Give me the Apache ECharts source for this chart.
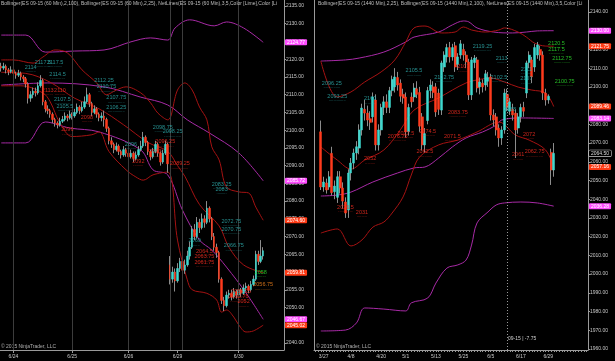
<!DOCTYPE html>
<html><head><meta charset="utf-8">
<script src="https://cdn.jsdelivr.net/npm/echarts@6/dist/echarts.min.js"></script>
<style>html,body{margin:0;padding:0;background:#000;}#c{width:615px;height:361px;}</style>
</head><body><div id="c"></div>
<script>
const FONT = 'Arial, "Liberation Sans", sans-serif';
const leftTitle = 'Bollinger(ES 09-15 (60 Min),2,100), Bollinger(ES 09-15 (60 Min),2,25), NetLines(ES 09-15 (60 Min),3,5,Color [Lime],Color [Lime]';
const rightTitle = 'Bollinger(ES 09-15 (1440 Min),2,25), Bollinger(ES 09-15 (1440 Min),2,100), NetLines(ES 09-15 (1440 Min),3,5,Color [Lime]';
const copyright = '\u00a9 2015 NinjaTrader, LLC';
const rightNote = '09-15 | -7.75';

// ---- left panel (60 min) ----
const leftCount = 116;
const leftDateIdx = [5, 29, 52, 72, 97];
const leftDateLabels = ['6/24', '6/25', '6/26', '6/29', '6/30'];
const leftSessionLines = [5, 29, 52, 69, 74, 97];
const leftYTicks = [2040,2045,2050,2055,2060,2065,2070,2075,2080,2085,2090,2095,2100,2105,2110,2115,2120,2125,2130,2135];
// [open, close, low, high]
const leftBars = [
[2118,2117.5,2116.5,2119],[2117.5,2118,2117,2119],[2118,2117,2116,2118.5],[2117,2116.5,2115.5,2117.5],
[2116.5,2117,2116,2118],[2117,2116,2115,2117.5],[2116,2115.5,2114.5,2116.5],[2115.5,2116,2115,2117],
[2116,2115,2114,2116.5],[2115,2114.5,2113.5,2115.5],[2114.5,2113,2112,2115],[2113,2109,2107.5,2113.5],
[2109,2110,2108,2111],[2110,2111,2109,2112],[2111,2110.5,2109.5,2112],[2110.5,2112.5,2110,2113.5],
[2112.5,2114,2112,2115.5],[2114,2108,2107,2114.5],[2108,2106,2105,2108.5],[2106,2105.5,2104.5,2107],
[2105.5,2104.5,2103.5,2106],[2104.5,2103,2102,2105],[2103,2102,2101,2103.5],[2102,2101.5,2100.5,2102.5],
[2101.5,2102.5,2101,2103.5],[2102.5,2103,2102,2104],[2103,2104,2102.5,2105],[2104,2103.5,2102.5,2104.5],
[2103.5,2104.5,2103,2105.5],[2104.5,2104,2103,2105],[2104,2105,2103.5,2106],[2105,2106.5,2104.5,2107.5],
[2106.5,2105.5,2104.5,2107],[2105.5,2106.5,2105,2108],[2106.5,2108,2106,2109.5],[2108,2110,2107.5,2112],
[2110,2107.5,2106.5,2110.5],[2107.5,2105,2104,2108],[2105,2106,2104.5,2107],[2106,2104.5,2103.5,2106.5],
[2104.5,2103.5,2102.5,2105],[2103.5,2104,2102.5,2105],[2104,2103,2101,2105.5],[2103,2100.5,2099.5,2103.5],
[2100.5,2097,2096,2101],[2097,2096,2095,2098],[2096,2094.5,2093.5,2096.5],[2094.5,2095.5,2094,2096.5],
[2095.5,2094,2093,2096],[2094,2093,2092,2094.5],[2093,2094.5,2092.5,2095.5],[2094.5,2093.5,2092.5,2095],
[2093.5,2092.5,2091.5,2094],[2092.5,2093.5,2092,2094.5],[2093.5,2092,2091,2094],[2092,2093,2091.5,2094],
[2093,2094.5,2092.5,2095.5],[2094.5,2095.5,2094,2097],[2095.5,2098,2095,2099.5],[2098,2096.5,2095.5,2098.5],
[2096.5,2094,2093,2097],[2094,2092.5,2091.5,2094.5],[2092.5,2094,2092,2095],[2094,2096,2093.5,2097],
[2096,2093.5,2092.5,2096.5],[2093.5,2091,2090,2094],[2091,2093.5,2090.5,2094.5],[2093.5,2096,2093,2097],
[2096,2090.5,2088,2096.5],[2062,2058,2056.5,2064.5],[2058,2060,2057,2061.5],[2060,2057.5,2054.5,2061],
[2057.5,2061,2057,2062.5],[2061,2063,2060,2064],[2063,2060.5,2059.5,2063.5],[2060.5,2062,2059.5,2063.5],
[2062,2064.5,2061.5,2066],[2064.5,2067,2063.5,2068.5],[2067,2072,2066.5,2073],[2072,2070,2069,2073.5],
[2070,2074,2069.5,2075.5],[2074,2072.5,2071,2075],[2072.5,2075,2072,2076.5],[2075,2074,2072.5,2076],
[2074,2078,2073.5,2080],[2078,2075,2074,2078.5],[2075,2070,2069,2075.5],[2070,2067,2066,2071],
[2067,2065.5,2064,2068],[2065.5,2058,2057,2066],[2058,2052,2051,2058.5],[2052,2050.5,2049,2053],
[2050.5,2053.5,2050,2054.5],[2053.5,2054,2052.5,2055],[2054,2053,2052,2055],[2053,2054.5,2052.5,2055.5],
[2054.5,2053.5,2052.5,2055],[2053.5,2055,2053,2056],[2055,2054,2053,2055.5],[2054,2055.5,2053.5,2056.5],
[2055.5,2056,2054.5,2057],[2056,2055,2054,2056.5],[2055,2056.5,2054.5,2057.5],[2056.5,2058,2056,2059],
[2058,2065,2057.5,2066],[2065,2063,2062,2066],[2063,2064.5,2062.5,2069],[2064.5,2066,2063.5,2067]
];
const leftBB100Upper = [[0,2126.8],[10,2126.8],[18,2122],[30,2122.3],[42,2122.6],[53,2124.9],[61,2126],[68,2125.4],[71,2128.8],[77,2131.1],[87,2129.4],[92,2130.5],[99,2128.8],[107,2124.77]];
const leftBB100Mid = [[0,2112.7],[19,2113.3],[42,2112.2],[57,2109.3],[68,2107.1],[76,2102.9],[85,2099.2],[97,2093.6],[107,2085.72]];
const leftBB100Lower = [[0,2096.4],[10,2096.4],[18,2102.3],[28,2100.6],[40,2099.5],[57,2094.4],[62,2088.8],[68,2087.4],[74,2077.5],[81,2069],[86,2066.2],[92,2061.4],[100,2054.1],[107,2046.67]];
const leftBB25Upper = [[0,2119.8],[5,2119.8],[13,2118.9],[17,2120.6],[22,2122.6],[27,2121.8],[33,2117],[39,2113.3],[43,2110],[47,2111.3],[51,2112.2],[57,2110.5],[61,2107.7],[64,2104.8],[68,2102.9],[72,2111.3],[75,2113.3],[78,2111.3],[81,2106.5],[84,2102.9],[86,2095.3],[89,2091.6],[92,2084],[97,2082.6],[101,2082.3],[104,2078.3],[107,2074.6]];
const leftBB25Mid = [[0,2116.3],[10,2116],[20,2113.5],[30,2109],[40,2106],[50,2101.5],[60,2096.5],[68,2094],[72,2090],[75,2087],[81,2079],[89,2073],[93,2067],[99,2062],[107,2059.81]];
const leftBB25Lower = [[0,2112.5],[8,2112.5],[17,2110.5],[20,2108],[24,2102],[29,2098.2],[37,2098.7],[40,2099.5],[44,2094],[51,2088.8],[55,2086.8],[58,2085.9],[62,2087.4],[68,2088.2],[72,2069],[76,2057.8],[78,2055],[84,2054],[88,2052.1],[90,2048.7],[92,2049.3],[95,2047.3],[97,2045.1],[100,2043.1],[103,2043.4],[107,2045.02]];
const leftMarkers = [[2124.77,'m'],[2085.72,'m'],[2074.60,'r'],[2059.81,'r'],[2046.67,'m'],[2045.02,'r']];
const leftNetLabels = [
[12,2117.5,'2114','c'],[17,2118.9,'2117.5','c'],[22,2118.9,'2117.5','c'],[23,2115.5,'2114.5','c'],
[42,2113.6,'2112.25','c'],[43,2111.9,'2110.75','c'],[47,2108.8,'2107.75','c'],[47,2106.2,'2106.25','c'],
[25,2108.5,'2107.5','c'],[26,2106.5,'2105.5','c'],[66,2100.6,'2098.75','c'],[70,2099.2,'2098.25','c'],
[53,2095.8,'2096','c'],[90,2084.5,'2083.25','c'],[90,2083.1,'2083','c'],[94,2074.1,'2072.75','c'],
[94,2071.8,'2070.75','c'],[95,2067.1,'2066.75','c'],[79,2068.5,'2069','c'],
[19,2111,'2113','r'],[24,2111,'2110','r'],[35,2103.4,'2098','r'],[27,2099.8,'2096','r'],
[67,2096.4,'2096.25','r'],[63,2093.6,'2093','r'],[56,2091.0,'2092','r'],[73,2090.2,'2089.25','r'],
[83,2065.6,'2064.5','r'],[83,2064.0,'2063.75','r'],[83,2062.5,'2061.75','r'],
[98,2054.1,'2054.25','r'],[97,2052.7,'2052.75','r'],[99,2051.4,'2052','r'],
[106,2059.7,'2058','g'],[107,2056.1,'2056.75','o']
];

// ---- right panel (daily) ----
const rightCount = 100;
const rightStart = 2;
const rightDateIdx = [3, 13, 24, 33, 44, 54, 64, 75, 85];
const rightDateLabels = ['3/27','4/8','4/20','5/1','5/13','5/25','6/5','6/17','6/29'];
const rightYTicks = [1960,1970,1980,1990,2000,2010,2020,2030,2040,2050,2060,2070,2080,2090,2100,2110,2120,2130,2140];
const rightBars = [
[2076,2046.5,2044.9,2082],[2046.5,2049.2,2044,2052],[2048.7,2044.9,2043,2051],[2046.5,2052,2045,2055],
[2064.5,2043.5,2042,2068],[2044,2047,2040,2050],[2041,2052,2038,2055],[2052,2046,2043,2055],
[2046,2039,2035,2049],[2038.5,2032.6,2030,2041],[2034.2,2054,2030,2056],[2054,2059.3,2050,2062],
[2059.3,2064.7,2056,2067],[2064.7,2068,2061,2071],[2067.3,2077,2064,2080],[2077,2088.7,2074,2091],
[2088,2086,2082,2093],[2086,2082.3,2079,2090],[2083,2081,2077,2087],[2084,2094.6,2081,2097],
[2093,2069,2066,2096],[2069,2077,2066,2080],[2077,2089,2074,2091],[2089,2092,2085,2095],
[2092,2089,2086,2096],[2089,2098,2086,2100],[2098,2104,2095,2106],[2100,2105.3,2097,2110],
[2105,2101,2098,2108],[2102,2095,2092,2104],[2096,2094,2091,2099],[2094.6,2076,2073,2097],
[2076,2089,2074,2091],[2094.6,2092,2089,2097],[2094.6,2099.4,2092,2102],[2099,2096,2094,2103],
[2097,2079,2076,2100],[2084,2069,2066,2086],[2069,2075,2065,2078],[2082,2098,2080,2100],
[2098,2101,2094,2104],[2100,2097,2094,2103],[2100,2086.6,2084,2102],[2096.7,2088,2085,2099],
[2087.6,2112.8,2085,2114],[2110.6,2117,2108,2119],[2116,2121,2113,2123],[2121,2116,2113,2124],
[2116,2121,2114,2123],[2122,2110.6,2108,2124],[2112,2116,2109,2118],[2117,2123,2115,2125],
[2120,2117,2114,2123],[2117,2113.3,2110,2119],[2113.3,2095.7,2093,2115],[2095.7,2114.4,2093,2116],
[2113,2115.4,2110,2117],[2114.4,2099.4,2097,2116],[2100,2102.6,2096,2105],[2102,2100,2097,2104],
[2101,2107,2098,2109],[2103,2105,2100,2108],[2105.3,2085,2082,2107],[2085,2082.3,2079,2088],
[2084,2077,2074,2086],[2078,2072.7,2068,2080],[2072.7,2077,2069,2079],[2077,2096.7,2075,2099],
[2096,2089,2087,2099],[2087,2092,2085,2094],[2088,2085,2082,2091],[2086,2077,2062,2088],
[2078,2084,2075,2086],[2084,2089,2081,2091],[2089,2087,2084,2092],[2096.7,2112.8,2094,2114],
[2113,2117,2110,2119],[2114.4,2105.3,2102,2116],[2110.6,2121,2108,2123],[2117,2122.4,2115,2124],
[2120,2117,2114,2122],[2117,2096.7,2093,2119],[2096.7,2093,2090,2099],[2093,2095,2091,2096],
[2065,2055.6,2047.6,2067],[2055.6,2064.5,2052,2070]
];
const rightBB100Upper = [[2,2113.8],[11,2114.4],[16,2115.4],[25,2118.6],[33,2124],[36,2126.6],[45,2129.3],[50,2133.1],[54,2135.2],[56,2134.7],[59,2131.5],[65,2129.3],[72,2128.8],[77,2129.3],[81,2129.9],[87,2130]];
const rightBB100Mid = [[2,2041.7],[8,2042.2],[13,2043.8],[21,2049.2],[30,2054],[36,2056.7],[40,2057.2],[45,2062],[50,2067.9],[55,2072.7],[61,2075.9],[66,2079.6],[68,2082.3],[75,2083.4],[87,2083.14]];
const rightBB100Lower = [[2,1969.6],[11,1970.1],[15,1973.9],[18,1981.9],[25,1981.3],[33,1980.3],[35,1984.6],[41,1987.2],[44,1995.2],[48,2003.2],[52,2004.9],[55,2007.5],[57,2015.5],[59,2027.3],[63,2033.2],[66,2036.9],[69,2038],[75,2038.5],[81,2038],[87,2036.28]];
const rightBB25Upper = [[2,2113.8],[8,2094.6],[13,2097.3],[18,2102.6],[24,2108],[29,2114.4],[33,2124],[36,2131.5],[40,2132.5],[46,2128.8],[51,2129.3],[54,2132],[57,2130.4],[62,2129.3],[67,2130.4],[69,2131.5],[74,2129.3],[77,2126.6],[80,2123.4],[84,2121.8],[87,2121.75]];
const rightBB25Mid = [[2,2067.9],[8,2060.9],[13,2056.1],[18,2060.9],[25,2066.3],[31,2077],[36,2087.6],[45,2094.1],[50,2098.3],[55,2102.1],[59,2103.7],[64,2104.7],[69,2102.6],[74,2099.9],[79,2098.3],[84,2096.7],[87,2089.46]];
const rightBB25Lower = [[2,2021.9],[8,2024.1],[13,2015],[17,2018.2],[21,2025.1],[25,2027.8],[28,2032.6],[32,2041.2],[35,2052.9],[38,2062.5],[45,2069],[52,2071.6],[59,2075.9],[67,2081.2],[73,2074.3],[78,2071.6],[84,2066.3],[87,2057.16]];
const rightMarkers = [[2130.00,'m'],[2121.75,'r'],[2089.46,'r'],[2083.14,'m'],[2064.50,'k'],[2057.16,'r'],[2036.28,'m']];
const rightDivider = [70];
const rightNetLabels = [
[61,2121.3,'2119.25','c'],[68,2114.9,'2113','c'],[36,2108,'2105.5','c'],[47,2104.7,'2102.75','c'],
[6,2101.5,'2096.25','c'],[8,2094.6,'2093.25','c'],[77,2109,'2111','c'],[77,2103.7,'2107','c'],
[67,2104.7,'2102.5','c'],[20,2093,'2100','c'],[71,2087.6,'2088','c'],
[54,2110.1,'2107','r'],[52,2086,'2083.75','r'],[30,2073.2,'2076.75','r'],[33,2074.8,'2077.5','r'],
[41,2075.9,'2074.5','r'],[50,2073.2,'2071.5','r'],[78,2074.3,'2072','r'],[40,2064.7,'2062.5','r'],
[74,2063.1,'2061','r'],[80,2064.7,'2062.75','r'],[20,2061,'2052','r'],[11,2035.3,'2026.5','r'],[17,2032.6,'2031','r'],
[88,2122.9,'2120.5','g'],[88,2119.7,'2117.5','g'],[90,2114.9,'2112.75','g'],[91,2102.6,'2100.75','g']
];

// ---- styles ----
const UP = '#3fd8cf', DOWN = '#ff3a1c', WICK = '#8c8c8c';
const MAG = '#a82aa6', DRED = '#a51212';
const NET = {c:'#2fb3b3', r:'#ff2e22', g:'#2ee62e', o:'#ff8a1e'};
const MARK = {
  m:{backgroundColor:'#ff4dff', color:'#ffffff'},
  r:{backgroundColor:'#ff3a14', color:'#ffffff'},
  k:{backgroundColor:'#000000', color:'#dddddd', borderColor:'#cccccc', borderWidth:0.6}
};

function idxCats(n){ return Array.from({length:n}, (_, i) => String(i)); }
function labelMap(idx, labels){ const m = {}; idx.forEach((k, j) => m[k] = labels[j]); return m; }
const leftLabelMap = labelMap(leftDateIdx, leftDateLabels);
const rightLabelMap = labelMap(rightDateIdx, rightDateLabels);

function padBars(bars, start, n){
  const out = [];
  for (let i = 0; i < n; i++){
    const b = bars[i - start];
    out.push(b ? b : '-');
  }
  return out;
}
function bodies(data){ return data.map(b => b === '-' ? '-' : [b[0], b[1], Math.min(b[0], b[1]), Math.max(b[0], b[1])]); }

function candleSeries(data, g, w){
  return [
    {type:'candlestick', xAxisIndex:g, yAxisIndex:g, data:data, barWidth:1, silent:true, z:3,
     itemStyle:{color:WICK, color0:WICK, borderColor:WICK, borderColor0:WICK, borderWidth:1}},
    {type:'candlestick', xAxisIndex:g, yAxisIndex:g, data:bodies(data), barWidth:w, silent:true, z:4,
     itemStyle:{color:UP, color0:DOWN, borderColor:UP, borderColor0:DOWN, borderWidth:0.5}}
  ];
}
function band(data, color, g){
  return {type:'line', xAxisIndex:g, yAxisIndex:g, data:data, smooth:0.35, symbol:'none', silent:true, z:2,
          lineStyle:{color:color, width:1}};
}
function netLabels(list, g){
  return {type:'scatter', xAxisIndex:g, yAxisIndex:g, symbolSize:0, silent:true, z:6,
    data: list.map(d => ({
      value:[d[0], d[1]],
      label:{show:true, position:'inside', formatter:'{t|' + d[2] + '}\n{u|' + '.'.repeat(Math.round(d[2].length * 2.2)) + '}',
        rich:{t:{fontSize:5.5, color:NET[d[3]], fontFamily:FONT, lineHeight:6},
              u:{fontSize:4, color:NET[d[3]], fontFamily:FONT, lineHeight:2}}}
    }))
  };
}
function markers(list, g){
  return {type:'line', xAxisIndex:g, yAxisIndex:g, data:[], silent:true, z:7, clip:false,
    markLine:{symbol:['none','none'], silent:true, animation:false,
      lineStyle:{color:'rgba(0,0,0,0)', width:1, type:'solid'},
      data: list.map(m => ({yAxis:m[0],
        label:Object.assign({show:true, position:'end', distance:1, formatter:m[0].toFixed(2), fontSize:5,
          fontFamily:FONT, padding:[1,2,0,2], borderRadius:1}, MARK[m[1]])}))}};
}
function vlines(idx, g, style){
  return {type:'line', xAxisIndex:g, yAxisIndex:g, data:[], silent:true, z:1,
    markLine:{symbol:['none','none'], silent:true, animation:false, label:{show:false},
      lineStyle:style, data: idx.map(i => ({xAxis:i}))}};
}
function xAxisCfg(n, map, g, ticksEvery){
  return {type:'category', gridIndex:g, data:idxCats(n), boundaryGap:true,
    axisLine:{show:true, lineStyle:{color:'#9a9a9a', width:1}},
    axisTick:{show:true, length:ticksEvery ? 2 : 3, lineStyle:{color:'#9a9a9a'}, alignWithLabel:true,
      interval: ticksEvery ? 0 : (i) => map[i] !== undefined},
    axisLabel:{show:true, interval:0, fontSize:5, color:'#c8c8c8', fontFamily:FONT, margin:4,
      formatter:(v, i) => map[i] || ''},
    splitLine:{show:false}};
}
function yAxisCfg(min, max, ticks, g){
  return {type:'value', gridIndex:g, position:'right', min:min, max:max, scale:true,
    axisLine:{show:true, lineStyle:{color:'#9a9a9a', width:1}},
    axisTick:{show:true, length:2, customValues:ticks, lineStyle:{color:'#9a9a9a'}},
    axisLabel:{show:true, customValues:ticks, fontSize:5, color:'#c8c8c8', fontFamily:FONT, margin:2,
      formatter:(v) => Number(v).toFixed(2)},
    splitLine:{show:false}};
}

const leftData = padBars(leftBars, 0, leftCount);
const rightData = padBars(rightBars, rightStart, rightCount);

const option = {
  backgroundColor:'#000',
  animation:false,
  title:[
    {text:leftTitle, left:1, top:1, padding:0, textStyle:{fontSize:5, color:'#bdbdbd', fontWeight:'normal', fontFamily:FONT, width:281, overflow:'truncate', ellipsis:''}},
    {text:rightTitle, left:318, top:1, padding:0, textStyle:{fontSize:5, color:'#bdbdbd', fontWeight:'normal', fontFamily:FONT, width:268, overflow:'truncate', ellipsis:''}}
  ],
  grid:[
    {left:0, top:0, width:284, height:350, containLabel:false, outerBoundsMode:'none'},
    {left:314, top:0, width:274, height:350, containLabel:false, outerBoundsMode:'none'}
  ],
  xAxis:[ xAxisCfg(leftCount, leftLabelMap, 0, false), xAxisCfg(rightCount, rightLabelMap, 1, true) ],
  yAxis:[ yAxisCfg(2038.02, 2136.69, leftYTicks, 0), yAxisCfg(1959.44, 2146.41, rightYTicks, 1) ],
  graphic:[
    {type:'line', shape:{x1:314.5, y1:0, x2:314.5, y2:350}, style:{stroke:'#9a9a9a', lineWidth:1}, silent:true},
    {type:'text', left:1, top:344, style:{text:copyright, fontSize:5, fill:'#b0b0b0', fontFamily:FONT}, silent:true},
    {type:'text', left:316, top:344, style:{text:copyright, fontSize:5, fill:'#b0b0b0', fontFamily:FONT}, silent:true},
    {type:'text', left:508, top:336, style:{text:rightNote, fontSize:5, fill:'#cfcfcf', fontFamily:FONT}, silent:true}
  ],
  series:[
    vlines(leftSessionLines, 0, {color:'#3c3c3c', width:1, type:'solid'}),
    vlines(rightDivider, 1, {color:'#9a9a9a', width:1, type:[1,2]}),
    band(leftBB100Upper, MAG, 0), band(leftBB100Mid, MAG, 0), band(leftBB100Lower, MAG, 0),
    band(leftBB25Upper, DRED, 0), band(leftBB25Mid, DRED, 0), band(leftBB25Lower, DRED, 0),
    band(rightBB100Upper, MAG, 1), band(rightBB100Mid, MAG, 1), band(rightBB100Lower, MAG, 1),
    band(rightBB25Upper, DRED, 1), band(rightBB25Mid, DRED, 1), band(rightBB25Lower, DRED, 1),
    ...candleSeries(leftData, 0, 2),
    ...candleSeries(rightData, 1, 2.5),
    netLabels(leftNetLabels, 0),
    netLabels(rightNetLabels, 1),
    markers(leftMarkers, 0),
    markers(rightMarkers, 1)
  ]
};
const chart = echarts.init(document.getElementById('c'), null, {renderer:'canvas'});
chart.setOption(option);
</script></body></html>
